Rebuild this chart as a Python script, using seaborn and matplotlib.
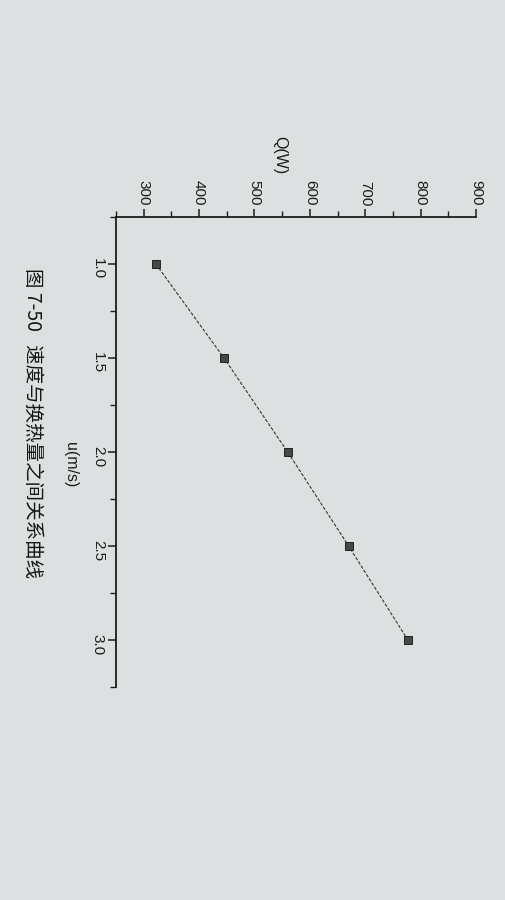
import matplotlib
matplotlib.use("Agg")
import matplotlib.pyplot as plt
from matplotlib.ticker import MultipleLocator
import seaborn as sns

# data read from the (rotated) figure
u_vals = [1.0, 1.5, 2.0, 2.5, 3.0]          # velocity u (m/s)
q_vals = [322, 445, 560, 670, 777]          # heat Q (W)
q_ticks = [300, 400, 500, 600, 700, 800, 900]
u_ticks = [1.0, 1.5, 2.0, 2.5, 3.0]
caption = "图 7-50   速度与换热量之间关系曲线"

sns.set_style("ticks")
plt.rcParams['font.family'] = ['Liberation Sans', 'Noto Sans CJK SC', 'DejaVu Sans']

paper = '#dde0e1'
ink = '#1c1c1c'

fig = plt.figure(figsize=(5.06, 9.0), dpi=100, facecolor=paper)
# page photo is rotated: Q runs left->right on top, u runs top->bottom on the left
ax = fig.add_axes([116 / 506, 1 - 687 / 900, (476 - 116) / 506, (687 - 217) / 900])
ax.set_facecolor(paper)

sns.lineplot(x=q_vals, y=u_vals, ax=ax, sort=False, color='#333333', linewidth=0.8,
             linestyle=(0, (3, 1.5)), marker='s', markersize=5.5,
             markerfacecolor='#474747', markeredgecolor='#222222', markeredgewidth=0.7)

ax.set_xlim(250, 900)
ax.set_ylim(3.25, 0.75)
ax.set_xticks(q_ticks)
ax.set_yticks(u_ticks)
ax.set_xticklabels([str(t) for t in q_ticks])
ax.set_yticklabels([f"{t:.1f}" for t in u_ticks])
ax.xaxis.set_minor_locator(MultipleLocator(50))
ax.yaxis.set_minor_locator(MultipleLocator(0.25))

ax.xaxis.tick_top()
for s in ['right', 'bottom']:
    ax.spines[s].set_visible(False)
for s in ['left', 'top']:
    ax.spines[s].set_linewidth(1.3)
    ax.spines[s].set_color(ink)

ax.tick_params(which='major', direction='out', length=6, width=1.1, colors=ink,
               labelsize=11, pad=2)
ax.tick_params(which='minor', direction='out', length=4, width=1.0, colors=ink)
ax.tick_params(axis='x', labelrotation=-90)
ax.tick_params(axis='y', labelrotation=-90)
ax.set_xlabel('')
ax.set_ylabel('')

fig.text(280 / 506, 1 - 155 / 900, 'Q(W)', rotation=-90, ha='center', va='center',
         fontsize=11.5, color=ink)
fig.text(70 / 506, 1 - 465 / 900, 'u(m/s)', rotation=-90, ha='center', va='center',
         fontsize=11.5, color=ink)
fig.text(33 / 506, 1 - 423 / 900, caption, rotation=-90, ha='center', va='center',
         fontsize=14, color='#151515', family=['Noto Sans CJK SC', 'DejaVu Sans'])

fig.savefig('out.png', dpi=100, facecolor=paper)
